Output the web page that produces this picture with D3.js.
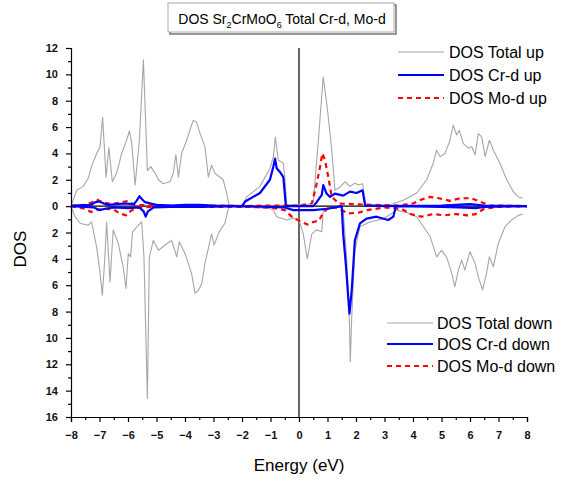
<!DOCTYPE html>
<html>
<head>
<meta charset="utf-8">
<script src="https://cdn.jsdelivr.net/npm/d3@7"></script>
<style>
  body { margin: 0; background: #fff; }
  svg { font-family: Arial, "Liberation Sans", sans-serif; }
</style>
</head>
<body>
<svg id="chart" width="571" height="482"></svg>
<script>
/* Data: [energy eV, DOS] pairs; "down" values are positive magnitudes */
const totalUp = [[-8,0],[-7.8,1.2],[-7.57,1.5],[-7.4,2.1],[-7.28,3.0],[-7.1,4.0],[-6.98,4.5],[-6.89,6.75],[-6.77,2.2],[-6.67,4.45],[-6.55,1.85],[-6.4,2.5],[-6.22,4.0],[-6.05,5.0],[-5.95,5.7],[-5.87,4.8],[-5.75,1.6],[-5.6,5.0],[-5.46,11.1],[-5.32,2.7],[-5.2,3.0],[-5.05,2.5],[-4.93,2.0],[-4.76,1.7],[-4.53,1.85],[-4.41,2.5],[-4.32,3.9],[-4.23,2.2],[-4.12,4.0],[-3.94,5.0],[-3.77,6.15],[-3.71,6.5],[-3.6,6.4],[-3.47,5.5],[-3.3,4.5],[-3.18,2.2],[-3.07,3.1],[-2.95,2.5],[-2.66,2.0],[-2.54,1.0],[-2.45,0],[-1.98,0],[-1.84,0.7],[-1.37,1.5],[-1.02,2.85],[-0.9,3.75],[-0.83,5.25],[-0.73,3.5],[-0.55,3.25],[-0.49,2.0],[-0.43,0.1],[0.3,0.1],[0.5,0.3],[0.68,5.0],[0.85,9.8],[0.99,7.5],[1.15,4.25],[1.26,1.2],[1.44,1.45],[1.61,1.85],[1.79,1.5],[1.96,1.75],[2.08,1.6],[2.23,1.7],[2.35,0.1],[3.19,0.1],[3.66,0.45],[4.13,1.0],[4.48,2.0],[4.71,3.25],[4.83,4.25],[4.95,3.75],[5.12,4.0],[5.3,5.0],[5.41,6.15],[5.53,5.4],[5.62,5.75],[5.77,4.75],[5.94,4.4],[6.06,4.5],[6.18,3.9],[6.29,5.5],[6.41,5.25],[6.53,3.75],[6.68,5.0],[6.82,4.25],[7.05,3.25],[7.29,2.0],[7.52,1.1],[7.7,0.7],[7.85,0.6]];

const totalDown = [[-8,0],[-7.86,0.8],[-7.68,1.3],[-7.4,1.45],[-7.28,1.2],[-7.1,3.1],[-6.98,5.1],[-6.9,6.75],[-6.81,3.85],[-6.75,1.2],[-6.63,5.75],[-6.52,1.8],[-6.34,2.85],[-6.17,4.6],[-6.07,6.25],[-5.99,3.6],[-5.91,3.85],[-5.84,1.95],[-5.64,1.45],[-5.52,1.2],[-5.44,3.85],[-5.32,14.6],[-5.25,3.85],[-5.11,2.6],[-4.93,3.35],[-4.64,2.85],[-4.47,2.6],[-4.29,3.85],[-4.2,2.7],[-4.0,3.6],[-3.77,5.1],[-3.65,6.6],[-3.53,6.4],[-3.41,5.85],[-3.3,4.35],[-3.18,3.2],[-3.07,2.1],[-2.98,2.95],[-2.8,1.95],[-2.6,1.3],[-2.48,0.2],[-2.4,0],[-1.95,0],[-1.5,0.1],[-1.0,0.2],[-0.9,0.3],[-0.78,0.8],[-0.43,1.05],[-0.2,0.9],[0,1.05],[0.15,2.1],[0.29,4.0],[0.45,2.1],[0.62,1.8],[0.8,1.95],[0.85,0.3],[1.0,0.1],[1.5,0.1],[1.55,0.3],[1.67,3.85],[1.77,8.9],[1.8,11.8],[1.85,8.4],[1.96,3.35],[2.14,1.55],[2.49,1.2],[2.96,0.95],[3.43,0.3],[3.8,0.5],[4.13,0.8],[4.6,2.3],[4.83,3.85],[5.0,3.35],[5.18,3.85],[5.36,5.1],[5.47,6.1],[5.59,4.85],[5.71,4.1],[5.82,4.85],[6.0,3.45],[6.18,4.35],[6.29,5.35],[6.44,6.35],[6.58,5.1],[6.68,3.85],[6.82,4.6],[6.99,2.85],[7.23,1.55],[7.46,1.05],[7.7,0.7],[7.85,0.6]];

const crUp = [[-8,0.05],[-7.3,0.1],[-7.15,0.3],[-7.0,0.35],[-6.85,0.2],[-6.7,0.1],[-6.4,0.15],[-6.1,0.2],[-5.8,0.15],[-5.7,0.4],[-5.6,0.75],[-5.5,0.5],[-5.4,0.3],[-5.2,0.2],[-5.0,0.1],[-4.5,0.05],[-4.0,0.1],[-3.5,0.1],[-3.0,0.05],[-2.0,0],[-1.89,0.35],[-1.37,1.0],[-1.02,2.0],[-0.9,3.0],[-0.84,3.6],[-0.78,2.85],[-0.67,2.6],[-0.55,2.2],[-0.46,0],[0.5,0],[0.62,0.3],[0.8,0.85],[0.85,1.6],[0.97,0.95],[1.09,0.7],[1.26,0.95],[1.55,0.8],[1.79,1.1],[2.02,1.0],[2.23,1.2],[2.32,0.05],[3,0],[5,0.05],[5.5,0.1],[6,0.15],[6.5,0.05],[8,0]];

const crDown = [[-8,0],[-7.2,0.1],[-7.0,0.3],[-6.8,0.2],[-6.5,0.1],[-6.0,0.15],[-5.6,0.1],[-5.45,0.4],[-5.38,0.8],[-5.3,0.4],[-5.1,0.1],[-4.5,0.05],[-3.5,0.05],[-2,0],[-0.5,0.1],[-0.2,0.3],[0.5,0.3],[1.0,0.2],[1.5,0],[1.55,2.1],[1.65,4.6],[1.77,8.15],[1.85,6.4],[1.96,2.6],[2.14,1.3],[2.37,0.95],[2.72,0.8],[3.13,1.05],[3.31,0.8],[3.4,0],[5,0.05],[5.6,0.1],[6.2,0.15],[6.5,0.05],[8,0]];

const moUp = [[-8,0],[-7.5,0.1],[-7.3,0.25],[-7.1,0.5],[-6.9,0.3],[-6.6,0.15],[-6.2,0.3],[-6.0,0.4],[-5.8,0.1],[-5.0,0.05],[-3.0,0.05],[-2,0],[-1,0.05],[0,0.05],[0.45,0.2],[0.62,1.7],[0.74,3.0],[0.82,4.0],[0.91,3.5],[1.03,2.2],[1.15,0.7],[1.4,0.2],[2.5,0.1],[3.5,0.05],[4.0,0.2],[4.3,0.5],[4.6,0.7],[4.9,0.6],[5.3,0.4],[5.65,0.6],[6.05,0.6],[6.4,0.3],[6.7,0.05],[8,0]];

const moDown = [[-8,0],[-7.5,0.2],[-7.3,0.45],[-7.1,0.3],[-6.8,0.2],[-6.5,0.25],[-6.3,0.55],[-6.05,0.7],[-5.9,0.35],[-5.6,0.1],[-5,0.05],[-3,0.05],[-2,0.05],[-1,0.1],[-0.5,0.3],[-0.2,0.9],[0.1,1.2],[0.3,1.4],[0.5,1.2],[0.7,1.1],[0.85,0.5],[1.0,0.2],[1.3,0.1],[1.5,0.3],[1.73,0.55],[2.08,0.5],[2.4,0.3],[3,0.1],[3.6,0.2],[3.9,0.6],[4.3,0.8],[4.7,0.6],[5.1,0.7],[5.5,0.6],[5.9,0.7],[6.2,0.6],[6.5,0.2],[7,0.05],[8,0]];

const xTicks = d3.range(-8, 9, 1);
const yTicks = d3.range(-16, 13, 2);

const legendUp = ["DOS Total up", "DOS Cr-d up", "DOS Mo-d up"];
const legendDown = ["DOS Total down", "DOS Cr-d down", "DOS Mo-d down"];

/* Styles */
const styles = [
  { color: "#a6a6a6", width: 1.1, dash: null },
  { color: "#0000ff", width: 2.2, dash: null },
  { color: "#ff0000", width: 2.2, dash: "5,4" }
];

const svg = d3.select("#chart");

/* Scales */
const x = d3.scaleLinear().domain([-8, 8]).range([71, 527]);
const y = d3.scaleLinear().domain([-16, 12]).range([417, 48]);

/* Zero lines */
svg.append("line")
    .attr("x1", x(-8)).attr("x2", x(8))
    .attr("y1", y(0)).attr("y2", y(0))
    .attr("stroke", "#000").attr("stroke-width", 1.2);
svg.append("line")
    .attr("x1", x(0)).attr("x2", x(0))
    .attr("y1", y(12)).attr("y2", y(-16))
    .attr("stroke", "#000").attr("stroke-width", 1.2);

/* Curves */
const lineUp = d3.line().x(d => x(d[0])).y(d => y(d[1]));
const lineDown = d3.line().x(d => x(d[0])).y(d => y(-d[1]));

function drawCurve(data, gen, st) {
  svg.append("path")
      .datum(data)
      .attr("d", gen)
      .attr("fill", "none")
      .attr("stroke", st.color)
      .attr("stroke-width", st.width)
      .attr("stroke-linejoin", "round")
      .attr("stroke-dasharray", st.dash);
}

drawCurve(totalUp, lineUp, styles[0]);
drawCurve(totalDown, lineDown, styles[0]);
drawCurve(moUp, lineUp, styles[2]);
drawCurve(moDown, lineDown, styles[2]);
drawCurve(crUp, lineUp, styles[1]);
drawCurve(crDown, lineDown, styles[1]);

/* Axes */
svg.append("g")
    .attr("transform", `translate(0,${y(-16)})`)
    .call(d3.axisBottom(x).tickValues(xTicks).tickSize(5).tickPadding(9).tickFormat(d3.format("d")));
svg.append("g")
    .attr("transform", `translate(0,${y(-16)})`)
    .call(d3.axisBottom(x).tickValues(d3.range(-7.5, 8, 1)).tickSize(3).tickFormat(""))
    .select(".domain").remove();

svg.append("g")
    .attr("transform", `translate(${x(-8)},0)`)
    .call(d3.axisLeft(y).tickValues(yTicks).tickSize(5).tickPadding(8).tickFormat(d => Math.abs(d)));
svg.append("g")
    .attr("transform", `translate(${x(-8)},0)`)
    .call(d3.axisLeft(y).tickValues(d3.range(-15, 12, 2)).tickSize(3).tickFormat(""))
    .select(".domain").remove();

svg.selectAll(".tick text")
    .style("font-size", "11px")
    .style("font-weight", "bold")
    .attr("fill", "#111");
svg.selectAll(".domain, .tick line").attr("stroke", "#000").attr("stroke-width", 1.2);

/* Axis titles */
svg.append("text")
    .attr("x", x(0)).attr("y", 471)
    .attr("text-anchor", "middle")
    .style("font-size", "17px")
    .text("Energy (eV)");
svg.append("text")
    .attr("transform", `translate(26,249) rotate(-90)`)
    .attr("text-anchor", "middle")
    .style("font-size", "17px")
    .text("DOS");

/* Title box */
svg.append("rect")
    .attr("x", 170).attr("y", 5).attr("width", 226).attr("height", 29)
    .attr("fill", "none").attr("stroke", "#777").attr("stroke-width", 1.5);
svg.append("rect")
    .attr("x", 168).attr("y", 3).attr("width", 226).attr("height", 29)
    .attr("fill", "#fff").attr("stroke", "#aaa").attr("stroke-width", 1);
const title = svg.append("text")
    .attr("x", 282).attr("y", 24)
    .attr("text-anchor", "middle")
    .style("font-size", "14px");
title.append("tspan").text("DOS Sr");
title.append("tspan").attr("dy", 4).style("font-size", "9px").text("2");
title.append("tspan").attr("dy", -4).text("CrMoO");
title.append("tspan").attr("dy", 4).style("font-size", "9px").text("6");
title.append("tspan").attr("dy", -4).text(" Total Cr-d, Mo-d");

/* Legends */
function drawLegend(labels, x0, x1, tx, rows) {
  labels.forEach((lab, i) => {
    const st = styles[i];
    svg.append("line")
        .attr("x1", x0).attr("x2", x1)
        .attr("y1", rows[i]).attr("y2", rows[i])
        .attr("stroke", st.color)
        .attr("stroke-width", st.width)
        .attr("stroke-dasharray", st.dash);
    svg.append("text")
        .attr("x", tx).attr("y", rows[i])
        .attr("dy", "0.35em")
        .style("font-size", "16px")
        .text(lab);
  });
}
drawLegend(legendUp, 398, 444, 449, [52, 75, 98]);
drawLegend(legendDown, 387, 433, 437, [323, 344, 366]);
</script>
</body>
</html>
